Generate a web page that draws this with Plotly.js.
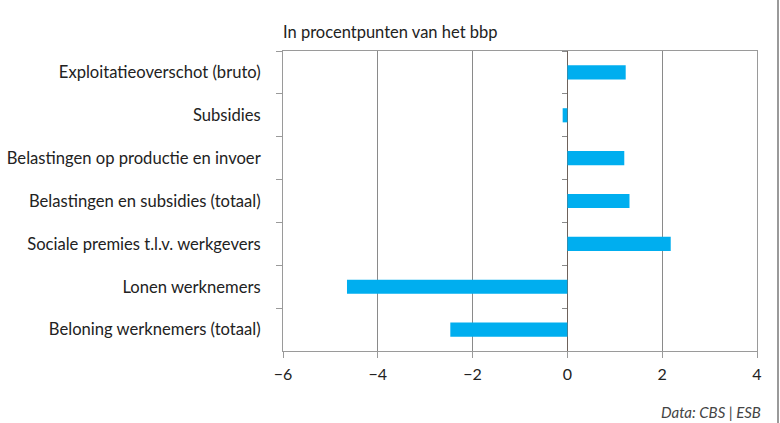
<!DOCTYPE html>
<html>
<head>
<meta charset="utf-8">
<script src="https://cdn.plot.ly/plotly-3.0.1.min.js"></script>
<style>html,body{margin:0;padding:0;background:#fff}#chart{width:780px;height:423px}</style>
</head>
<body>
<div id="chart"></div>
<script>
const categories = [
  "Exploitatieoverschot (bruto)",
  "Subsidies",
  "Belastingen op productie en invoer",
  "Belastingen en subsidies (totaal)",
  "Sociale premies t.l.v. werkgevers",
  "Lonen werknemers",
  "Beloning werknemers (totaal)"
];
const values = [1.23, -0.1, 1.2, 1.31, 2.18, -4.65, -2.47];
const xTicks = [-6, -4, -2, 0, 2, 4];
const chartTitle = "In procentpunten van het bbp";
const sourceNote = "Data: CBS | ESB";

const FONT = "Lato, 'Open Sans', sans-serif";

const traces = [
  {
    type: "bar", orientation: "h",
    x: values, y: categories,
    marker: {color: "#00AEEF"},
    width: 0.33,
    hoverinfo: "x+y"
  },
  {
    type: "bar", orientation: "h",
    x: values, y: categories, yaxis: "y2",
    marker: {color: "rgba(0,0,0,0)"},
    width: 0.33, hoverinfo: "skip", showlegend: false
  }
];

const layout = {
  width: 780, height: 423,
  margin: {l: 283, r: 23, t: 51, b: 72},
  paper_bgcolor: "#fff", plot_bgcolor: "#fff",
  showlegend: false,
  font: {family: FONT, size: 16, color: "#222"},
  title: {text: chartTitle, x: 283/780, xanchor: "left", y: 1 - 32/423, yanchor: "middle",
          font: {family: FONT, size: 16.5, color: "#222"}},
  xaxis: {
    range: [-6, 4], tickvals: xTicks, ticktext: xTicks.map(v => v < 0 ? "\u2212" + Math.abs(v) : String(v)),
    showgrid: true, gridcolor: "#8a8a8a", gridwidth: 1,
    zeroline: true, zerolinecolor: "#6e625b", zerolinewidth: 1,
    showline: true, linecolor: "#9a9a9a", linewidth: 1, mirror: true,
    ticks: "outside", ticklen: 6, tickcolor: "#9a9a9a", tickwidth: 1,
    ticklabelstandoff: 3,
    tickfont: {family: FONT, size: 16, color: "#222"},
    fixedrange: true
  },
  yaxis: {
    type: "category", autorange: "reversed",
    categoryorder: "array", categoryarray: categories,
    showgrid: false, zeroline: false,
    showline: true, linecolor: "#9a9a9a", linewidth: 1, mirror: true,
    ticks: "outside", tickson: "boundaries", ticklen: 6, tickcolor: "#9a9a9a", tickwidth: 1,
    ticklabelstandoff: 18,
    tickfont: {family: FONT, size: 16.6, color: "#222"},
    fixedrange: true
  },
  yaxis2: {
    type: "category", autorange: "reversed", overlaying: "y", anchor: "free",
    position: (0 - (-6)) / (4 - (-6)), side: "left",
    categoryorder: "array", categoryarray: categories,
    showgrid: false, zeroline: false, showline: false, showticklabels: false,
    ticks: "outside", tickson: "boundaries", ticklen: 5, tickcolor: "#8a8a8a", tickwidth: 1,
    fixedrange: true
  },
  shapes: [
    {type: "line", xref: "paper", yref: "paper", x0: (778 - 283) / 474, x1: (778 - 283) / 474,
     y0: -0.3, y1: 1.2, line: {color: "#9a9a9a", width: 2}}
  ],
  annotations: [
    {text: "<i>" + sourceNote + "</i>", xref: "paper", yref: "paper",
     x: (763 - 283) / 474, xanchor: "right", y: (351 - 412) / 300, yanchor: "middle",
     showarrow: false, font: {family: FONT, size: 15, color: "#444"}}
  ]
};

Plotly.newPlot("chart", traces, layout, {displayModeBar: false, staticPlot: true});
</script>
</body>
</html>
